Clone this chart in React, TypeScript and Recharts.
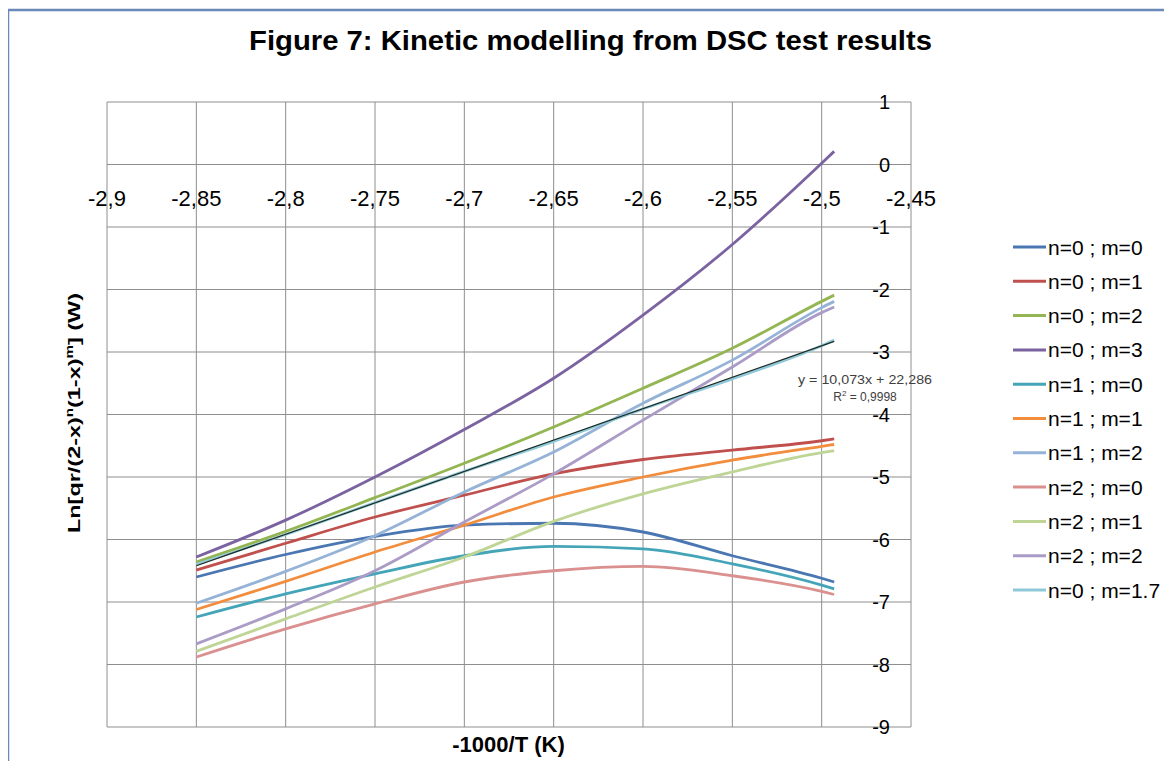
import { LineChart, Line, XAxis, YAxis, CartesianGrid } from "recharts";

// -1000/T (K) sample positions shared by every curve
const xVals = [-2.85, -2.8, -2.75, -2.7, -2.65, -2.6, -2.55, -2.5, -2.493];

const n0m0 = [-6.6, -6.24, -5.95, -5.77, -5.74, -5.88, -6.26, -6.62, -6.68];
const n0m1 = [-6.49, -6.06, -5.64, -5.29, -4.95, -4.72, -4.57, -4.42, -4.39];
const n0m2 = [-6.36, -5.87, -5.33, -4.78, -4.2, -3.58, -2.94, -2.19, -2.09];
const n0m3 = [-6.28, -5.69, -5.0, -4.24, -3.42, -2.41, -1.28, 0.02, 0.21];
const n1m0 = [-7.24, -6.87, -6.55, -6.26, -6.11, -6.15, -6.39, -6.73, -6.79];
const n1m1 = [-7.12, -6.67, -6.2, -5.77, -5.32, -5.0, -4.73, -4.51, -4.48];
const n1m2 = [-7.02, -6.51, -5.94, -5.24, -4.6, -3.82, -3.13, -2.29, -2.19];
const n2m0 = [-7.88, -7.43, -7.03, -6.68, -6.5, -6.43, -6.58, -6.83, -6.88];
const n2m1 = [-7.79, -7.27, -6.76, -6.28, -5.71, -5.27, -4.92, -4.61, -4.58];
const n2m2 = [-7.67, -7.11, -6.5, -5.72, -4.95, -4.09, -3.24, -2.37, -2.28];
const n0m17 = [-6.4, -5.92, -5.41, -4.91, -4.43, -3.91, -3.43, -2.9, -2.81];

// linear trendline of n=0 ; m=1.7, end points
const trendX = [-2.85, -2.493];
const trendY = [-6.42, -2.83];

const xTicks = [-2.9, -2.85, -2.8, -2.75, -2.7, -2.65, -2.6, -2.55, -2.5, -2.45];
const yTicks = [1, 0, -1, -2, -3, -4, -5, -6, -7, -8, -9];

const seriesList = [
  { key: "n0m0", name: "n=0 ; m=0", values: n0m0, color: "#4a76b2" },
  { key: "n0m1", name: "n=0 ; m=1", values: n0m1, color: "#c0504d" },
  { key: "n0m2", name: "n=0 ; m=2", values: n0m2, color: "#93b552" },
  { key: "n0m3", name: "n=0 ; m=3", values: n0m3, color: "#7b62a0" },
  { key: "n1m0", name: "n=1 ; m=0", values: n1m0, color: "#45a5b8" },
  { key: "n1m1", name: "n=1 ; m=1", values: n1m1, color: "#f38d3e" },
  { key: "n1m2", name: "n=1 ; m=2", values: n1m2, color: "#95b3d7" },
  { key: "n2m0", name: "n=2 ; m=0", values: n2m0, color: "#d9908f" },
  { key: "n2m1", name: "n=2 ; m=1", values: n2m1, color: "#bfd596" },
  { key: "n2m2", name: "n=2 ; m=2", values: n2m2, color: "#aa9cc6" },
  { key: "n0m17", name: "n=0 ; m=1.7", values: n0m17, color: "#8fc8da" },
];

const data = xVals.map((x, i) => {
  const row: Record<string, number> = { x };
  seriesList.forEach((s) => (row[s.key] = s.values[i]));
  return row;
});
const trendData = trendX.map((x, i) => ({ x, trend: trendY[i] }));

const FONT = "'Liberation Sans', Arial, sans-serif";
const comma = (v: number) => String(v).replace(".", ",");

const XTick = (props: any) => (
  <text x={props.x} y={206} textAnchor="middle" fontSize={22} fontFamily={FONT} fill="#000">
    {comma(props.payload.value)}
  </text>
);

const YTick = (props: any) => (
  <text x={890} y={props.y + 7} textAnchor="end" fontSize={20} fontFamily={FONT} fill="#000">
    {comma(props.payload.value)}
  </text>
);

export default function App() {
  return (
    <div style={{ position: "relative", width: 1172, height: 769, margin: -8, overflow: "hidden", background: "#fff" }}>
      <LineChart width={1172} height={769} data={data} margin={{ top: 102, right: 221, bottom: 12, left: 107 }}
        style={{ position: "absolute", left: 0, top: 0 }}>
        <CartesianGrid stroke="#8e8e8e" strokeWidth={1} />
        <XAxis
          dataKey="x" type="number" domain={[-2.9, -2.45]} ticks={xTicks} interval={0}
          allowDataOverflow axisLine={false} tickLine={false} height={30} tick={<XTick />}
        />
        <YAxis
          type="number" domain={[-9, 1]} ticks={yTicks} interval={0} orientation="right"
          allowDataOverflow axisLine={false} tickLine={false} width={40} tick={<YTick />}
        />
        {seriesList.map((s) => (
          <Line key={s.key} dataKey={s.key} name={s.name} type="monotone" stroke={s.color}
            strokeWidth={2.8} dot={false} activeDot={false} isAnimationActive={false} />
        ))}
        <Line data={trendData} dataKey="trend" type="linear" stroke="#1d2b20" strokeWidth={1.2}
          dot={false} activeDot={false} isAnimationActive={false} legendType="none" />
      </LineChart>

      <svg width={1172} height={769} style={{ position: "absolute", left: 0, top: 0, pointerEvents: "none", zIndex: 2 }}>
        {/* outer frame of the embedded chart object */}
        <rect x={8} y={10} width={1200} height={800} fill="none" stroke="#6a88b8" strokeWidth={2.5} />

        <text x={590.5} y={50} textAnchor="middle" fontSize={28} fontWeight="bold" fontFamily={FONT}
          textLength={683} lengthAdjust="spacingAndGlyphs">
          Figure 7: Kinetic modelling from DSC test results
        </text>

        <text x={508.5} y={752} textAnchor="middle" fontSize={22} fontWeight="bold" fontFamily={FONT}>
          -1000/T (K)
        </text>

        <text transform="translate(80,413) rotate(-90)" textAnchor="middle" fontSize={17} fontWeight="bold"
          fontFamily={FONT} textLength={240} lengthAdjust="spacingAndGlyphs">
          Ln[qr/(2-x)<tspan fontSize={11} dy={-7}>n</tspan><tspan dy={7}>(1-x)</tspan>
          <tspan fontSize={11} dy={-7}>m</tspan><tspan dy={7}>] (W)</tspan>
        </text>

        <text x={865} y={384} textAnchor="middle" fontSize={12} fontFamily={FONT} fill="#404040"
          textLength={134} lengthAdjust="spacingAndGlyphs">
          y = 10,073x + 22,286
        </text>
        <text x={865} y={401} textAnchor="middle" fontSize={12} fontFamily={FONT} fill="#404040">
          R<tspan fontSize={8} dy={-5}>2</tspan><tspan dy={5}> = 0,9998</tspan>
        </text>

        {seriesList.map((s, i) => {
          const cy = 247 + i * 34.3;
          return (
            <g key={s.key}>
              <line x1={1013} y1={cy} x2={1046} y2={cy} stroke={s.color} strokeWidth={3} />
              <text x={1048} y={cy + 7.5} fontSize={21} fontFamily={FONT} fill="#000">{s.name}</text>
            </g>
          );
        })}
      </svg>
    </div>
  );
}
